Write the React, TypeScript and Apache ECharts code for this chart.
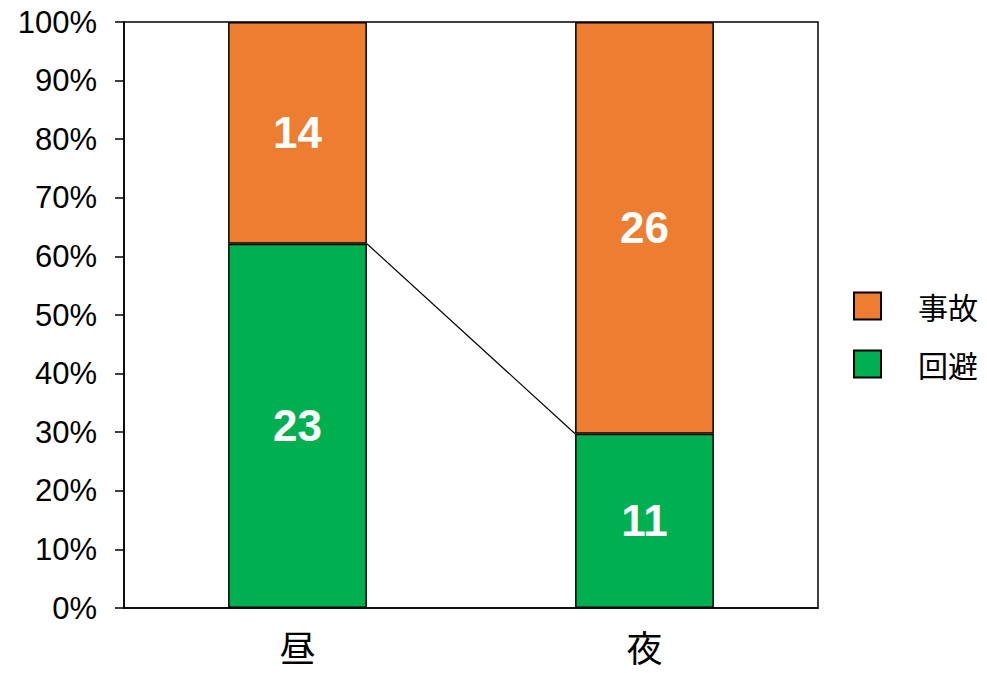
import React, { useEffect, useRef } from "react";
import * as echarts from "echarts";

const categories = ["昼", "夜"];
const avoidCounts = [23, 11]; // 回避
const accidentCounts = [14, 26]; // 事故
const yTicks = [0, 10, 20, 30, 40, 50, 60, 70, 80, 90, 100];

const seriesNames = { avoid: "回避", accident: "事故" };
const colors = { avoid: "#00B050", accident: "#ED7D31" };

export default function App() {
  const ref = useRef<HTMLDivElement>(null);

  useEffect(() => {
    if (!ref.current) return;
    const chart = echarts.init(ref.current, null, { renderer: "svg" });

    const totals = categories.map((_, i) => avoidCounts[i] + accidentCounts[i]);
    const avoidPct = avoidCounts.map((v, i) => (v / totals[i]) * 100);
    const accidentPct = accidentCounts.map((v, i) => (v / totals[i]) * 100);

    const latin = "'Liberation Sans', Arial, sans-serif";
    const cjk = "'Noto Sans CJK JP', 'Liberation Sans', sans-serif";
    const barFrac = 0.4;

    const connectorData = categories.slice(0, -1).map((_, i) => [i, avoidPct[i], avoidPct[i + 1]]);

    chart.setOption({
      animation: false,
      grid: {
        left: 124,
        right: 169,
        top: 22,
        bottom: 65,
        show: true,
        borderColor: "#000",
        borderWidth: 1.5,
        backgroundColor: "transparent",
      },
      legend: {
        orient: "vertical",
        left: 848,
        top: 286,
        icon: "rect",
        itemWidth: 27,
        itemHeight: 27,
        itemGap: 28,
        data: [seriesNames.accident, seriesNames.avoid],
        textStyle: {
          fontFamily: cjk,
          fontSize: 30,
          color: "#000",
          padding: [0, 0, 0, 32],
        },
      },
      xAxis: {
        type: "category",
        data: categories,
        axisLine: { lineStyle: { color: "#000", width: 1.5 } },
        axisTick: { show: false },
        axisLabel: {
          fontFamily: cjk,
          fontSize: 36,
          color: "#000",
          margin: 20,
        },
      },
      yAxis: {
        type: "value",
        min: yTicks[0],
        max: yTicks[yTicks.length - 1],
        interval: 10,
        splitLine: { show: false },
        axisLine: { show: true, lineStyle: { color: "#000", width: 1.5 } },
        axisTick: { show: true, length: 9, lineStyle: { color: "#000", width: 1.5 } },
        axisLabel: {
          fontFamily: latin,
          fontSize: 31,
          color: "#000",
          margin: 27,
          formatter: "{value}%",
        },
      },
      series: [
        {
          name: seriesNames.avoid,
          type: "bar",
          stack: "total",
          barWidth: barFrac * 100 + "%",
          data: avoidPct,
          itemStyle: { color: colors.avoid, borderColor: "#000", borderWidth: 1.5 },
          label: {
            show: true,
            position: "inside",
            color: "#fff",
            fontWeight: "bold",
            fontFamily: latin,
            fontSize: 44,
            formatter: (p: any) => String(avoidCounts[p.dataIndex]),
          },
        },
        {
          name: seriesNames.accident,
          type: "bar",
          stack: "total",
          barWidth: barFrac * 100 + "%",
          data: accidentPct,
          itemStyle: { color: colors.accident, borderColor: "#000", borderWidth: 1.5 },
          label: {
            show: true,
            position: "inside",
            color: "#fff",
            fontWeight: "bold",
            fontFamily: latin,
            fontSize: 44,
            formatter: (p: any) => String(accidentCounts[p.dataIndex]),
          },
        },
        {
          name: "connector",
          type: "custom",
          z: 5,
          silent: true,
          data: connectorData,
          renderItem: (params: any, api: any) => {
            const i = api.value(0);
            const p1 = api.coord([i, api.value(1)]);
            const p2 = api.coord([i + 1, api.value(2)]);
            const half = (api.size([1, 0])[0] * barFrac) / 2;
            return {
              type: "line",
              shape: { x1: p1[0] + half, y1: p1[1], x2: p2[0] - half, y2: p2[1] },
              style: { stroke: "#000", lineWidth: 1.2 },
            };
          },
        },
      ],
    });

    return () => chart.dispose();
  }, []);

  return (
    <div
      ref={ref}
      style={{ position: "fixed", left: 0, top: 0, width: 987, height: 673, background: "#fff" }}
    />
  );
}
